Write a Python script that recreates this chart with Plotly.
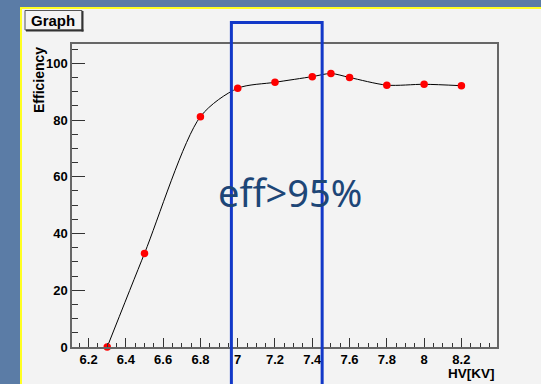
import plotly.graph_objects as go

# ---- data ----
hv = [6.3, 6.5, 6.8, 7.0, 7.2, 7.4, 7.5, 7.6, 7.8, 8.0, 8.2]
efficiency = [0.0, 33.0, 81.2, 91.2, 93.3, 95.3, 96.4, 95.0, 92.3, 92.6, 92.1]
window_hv = [6.966, 7.453]
x_title = "HV[KV]"
y_title = "Efficiency"
graph_title = "Graph"
note = "eff>95%"

W, H = 541, 384
L, R, T, B = 72, 44, 44, 37
PW, PH = W - L - R, H - T - B


def px(xp):
    return (xp - L) / PW


def py(yp):
    return (H - B - yp) / PH


bold = dict(family="Liberation Sans, Arial, sans-serif", weight="bold", color="black")

fig = go.Figure()
fig.add_trace(go.Scatter(
    x=hv, y=efficiency, mode="lines+markers",
    line=dict(color="black", width=1, shape="spline", smoothing=0.8),
    marker=dict(color="#ff0000", size=7.5, symbol="circle"),
    cliponaxis=False, showlegend=False,
))

shapes = [
    # canvas
    dict(type="rect", xref="paper", yref="paper", x0=px(20), x1=px(545), y0=py(7), y1=py(390),
         fillcolor="#f3f3f3", line=dict(width=0), layer="below"),
    dict(type="line", xref="paper", yref="paper", x0=px(21), x1=px(21), y0=py(7), y1=py(390),
         line=dict(color="#ffff22", width=2), layer="below"),
    dict(type="line", xref="paper", yref="paper", x0=px(20), x1=px(545), y0=py(8), y1=py(8),
         line=dict(color="#ffff22", width=2), layer="below"),
    # Graph title box
    dict(type="rect", xref="paper", yref="paper", x0=px(25), x1=px(82), y0=py(10.5), y1=py(30),
         fillcolor="#f3f3f3", line=dict(color="#555555", width=1), layer="above"),
    dict(type="line", xref="paper", yref="paper", x0=px(26), x1=px(83.5), y0=py(30.5), y1=py(30.5),
         line=dict(color="#333333", width=2), layer="above"),
    dict(type="line", xref="paper", yref="paper", x0=px(82.5), x1=px(82.5), y0=py(11), y1=py(31.5),
         line=dict(color="#333333", width=2), layer="above"),
    # window rectangle
    dict(type="rect", xref="x", yref="paper", x0=window_hv[0], x1=window_hv[1],
         y0=py(400), y1=py(22.5), line=dict(color="#1238c8", width=3), layer="above"),
]

annotations = [
    dict(text=graph_title, xref="paper", yref="paper", x=px(53), y=py(20.5),
         xanchor="center", yanchor="middle", showarrow=False, font=dict(size=15, **bold)),
    dict(text=y_title, xref="paper", yref="paper", x=px(39), y=py(45), textangle=-90,
         xanchor="center", yanchor="top", showarrow=False, font=dict(size=14, **bold)),
    dict(text=x_title, xref="paper", yref="paper", x=px(497), y=py(373),
         xanchor="right", yanchor="middle", showarrow=False, font=dict(size=13.5, **bold)),
    dict(text=note, xref="paper", yref="paper", x=px(290), y=py(192),
         xanchor="center", yanchor="middle", showarrow=False,
         font=dict(family="Noto Sans, Open Sans, sans-serif", size=38, color="#1d4677")),
]

fig.update_layout(
    width=W, height=H, margin=dict(l=L, r=R, t=T, b=B, pad=0),
    paper_bgcolor="#5b7ca6", plot_bgcolor="rgba(0,0,0,0)",
    shapes=shapes, annotations=annotations, showlegend=False,
)
fig.update_xaxes(
    range=[6.111, 8.391], tick0=6.2, dtick=0.2, ticks="inside", ticklen=9, tickwidth=1,
    tickcolor="#333333", showgrid=False, zeroline=False, showline=True, mirror=True,
    linecolor="#666666", linewidth=1.5, tickfont=dict(size=13, **bold),
    minor=dict(dtick=0.05, ticks="inside", ticklen=4.5, tickcolor="#333333", showgrid=False),
)
fig.update_yaxes(
    range=[0, 106.8], tick0=0, dtick=20, ticks="inside", ticklen=13, tickwidth=1,
    tickcolor="#333333", showgrid=False, zeroline=False, showline=True, mirror=True,
    linecolor="#666666", linewidth=1.5, tickfont=dict(size=13, **bold),
    minor=dict(dtick=5, ticks="inside", ticklen=6.5, tickcolor="#333333", showgrid=False),
)

fig.write_html("out.html", config={"displayModeBar": False},
               post_script="document.body.style.margin='0';document.body.style.overflow='hidden';")
